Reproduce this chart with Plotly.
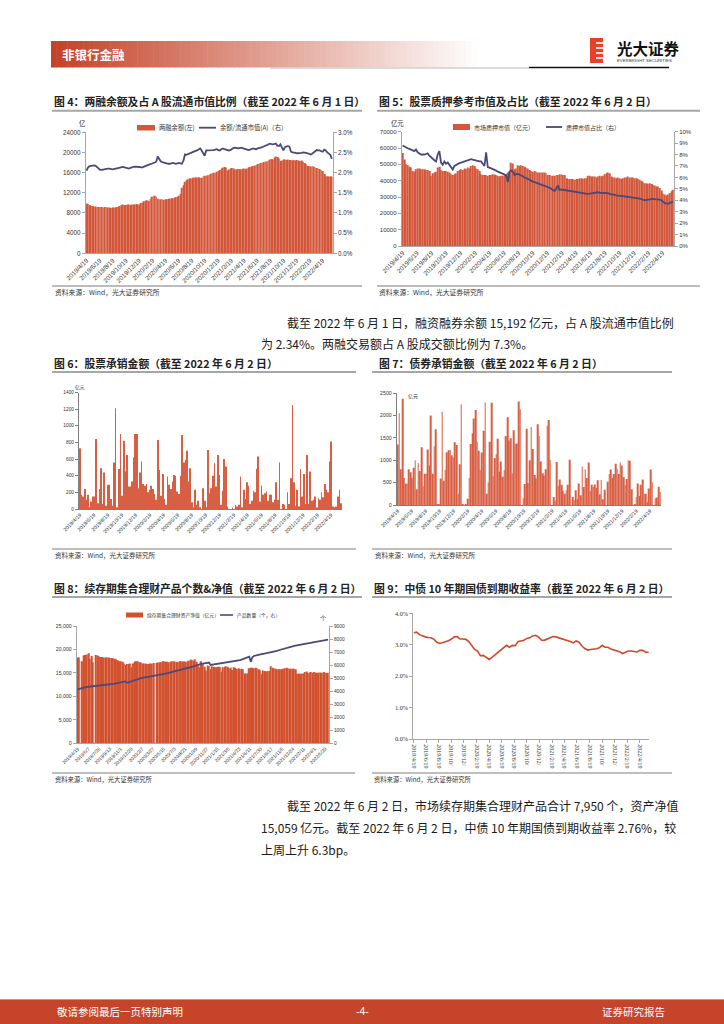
import pandas as pd
import plotly.graph_objects as go

W, H = 724, 1024
CJK = "Noto Sans CJK SC"
SANS = "Liberation Sans, Noto Sans CJK SC"
SERIF = "Liberation Serif"
BAR = "#D3573B"
BAR2 = "#D85F43"
LINE = "#4A4979"
AXC = "#A6A6A6"

# ---------------- data ----------------
tick_labels = ["2019/4/19", "2019/6/19", "2019/8/19", "2019/10/19", "2019/12/19", "2020/2/19",
               "2020/4/19", "2020/6/19", "2020/8/19", "2020/10/19", "2020/12/19", "2021/2/19",
               "2021/4/19", "2021/6/19", "2021/8/19", "2021/10/19", "2021/12/19", "2022/2/19",
               "2022/4/19"]
tick9_text = ["2019/4/19", "2019/6/19", "2019/8/19", "2019/10/", "2019/12/", "2020/2/19",
              "2020/4/19", "2020/6/19", "2020/8/19", "2020/10/", "2020/12/", "2021/2/19",
              "2021/4/19", "2021/6/19", "2021/8/19", "2021/10/", "2021/12/", "2022/2/19",
              "2022/4/19"]
tick8_labels = ["2019/4/19", "2019/6/7", "2019/7/26", "2019/9/13", "2019/11/1", "2019/12/20",
                "2020/2/7", "2020/3/27", "2020/5/15", "2020/7/3", "2020/8/21", "2020/10/9",
                "2020/11/27", "2021/1/15", "2021/3/5", "2021/4/23", "2021/6/11", "2021/7/30",
                "2021/9/17", "2021/11/5", "2021/12/24", "2022/2/11", "2022/4/1", "2022/5/20"]

# Fig 4: margin balance (亿元) and ratio to A-share float cap (%)
margin_bal = [9900, 9800, 9600,
              9400, 9400, 9300, 9300, 9200, 9200, 9200, 9200, 9100, 9200, 9200,
              9100, 9100, 9000, 9100, 9100, 9100, 9200, 9300, 9400,
              9600, 9700, 9600, 9600,
              9700, 9700, 9600, 9700, 9700, 9700, 9800, 9700, 9700,
              10000, 10100, 10300, 10400, 10500,
              10400, 10800, 11200, 11300,
              11400, 11200,
              10800, 10700, 10700, 10700, 10600, 10700, 10700, 10800, 10800, 10900, 10900,
              11000, 11100, 11200, 11400,
              11800, 13000, 13500,
              14200, 14500,
              14700, 14900, 14800, 15000, 15000,
              15100, 15000, 15100, 15000, 15000,
              15300, 15400, 15400, 15500, 15600, 15800, 15900,
              16000, 16000, 16200, 16300, 16500, 16800,
              17000, 17100, 17000,
              16400, 16600,
              16800, 16900, 16800, 16600,
              16600, 16700, 16700, 16600, 16700, 16800, 16700, 16800, 17000,
              17100, 17200, 17300, 17400,
              17500, 17700, 17800, 17900, 18000,
              18100, 18200, 18200, 18400,
              18600, 18700, 18600,
              19000, 19200, 19100, 18800,
              18300, 18400,
              18600, 18600, 18500, 18600, 18500, 18500, 18400, 18500, 18400, 18500, 18400, 18300, 18400, 18200,
              17900, 17700,
              17300, 17300, 17200, 17300, 17200, 17000,
              16900, 16800, 16700, 16500, 16300,
              15800, 15300,
              15300, 15200, 15300, 15200]
margin_ratio = [2.05, 2.13, 2.16, 2.17, 2.18, 2.18, 2.17, 2.13, 2.09, 2.07,
                2.07, 2.08, 2.09, 2.10, 2.10, 2.10, 2.09, 2.08, 2.09, 2.10,
                2.11, 2.12, 2.12, 2.13, 2.14, 2.13, 2.12, 2.11, 2.10, 2.12,
                2.14, 2.14, 2.15, 2.15, 2.14, 2.14, 2.13, 2.13, 2.15, 2.17,
                2.19, 2.20, 2.21, 2.22, 2.23, 2.25, 2.27, 2.40, 2.34, 2.28,
                2.26, 2.25, 2.23, 2.22, 2.22, 2.22, 2.23, 2.24, 2.23, 2.22,
                2.23, 2.24, 2.23, 2.22, 2.30, 2.45, 2.44, 2.46, 2.48, 2.50,
                2.52, 2.53, 2.54, 2.55, 2.58, 2.60, 2.55, 2.48, 2.42, 2.55,
                2.55, 2.55, 2.56, 2.55, 2.56, 2.57, 2.58, 2.56, 2.55, 2.58,
                2.60, 2.58, 2.57, 2.56, 2.55, 2.56, 2.59, 2.61, 2.62, 2.61,
                2.60, 2.61, 2.62, 2.61, 2.60, 2.58, 2.57, 2.56, 2.57, 2.59,
                2.60, 2.59, 2.58, 2.60, 2.62, 2.62, 2.63, 2.65, 2.67, 2.69,
                2.71, 2.72, 2.71, 2.70, 2.71, 2.72, 2.67, 2.66, 2.70, 2.62,
                2.55, 2.63, 2.65, 2.66, 2.64, 2.52, 2.50, 2.50, 2.49, 2.48,
                2.48, 2.48, 2.49, 2.50, 2.50, 2.49, 2.48, 2.47, 2.45, 2.47,
                2.50, 2.55, 2.56, 2.55, 2.55, 2.53, 2.52, 2.57, 2.55, 2.50,
                2.48, 2.44, 2.34]

# Fig 5: pledged market value (亿元) and share (%)
pledge_val = [57000, 53000, 50000, 49500, 48500, 48000, 46000, 45500, 47000, 47500,
              47500, 47000, 47000, 47000, 46500, 46500, 46000, 43000, 44500, 45000,
              45500, 48000, 48500, 46500, 46000, 46000, 46000, 45500, 45000, 44000,
              43500, 44000, 44500, 46000, 46500, 47000, 46500, 47500, 47000, 48000,
              47500, 49000, 49500, 49000, 47500, 47000, 46000, 44000, 43500, 43500,
              43500, 43000, 43500, 43500, 44000, 43800, 43500, 43000, 42500, 43000,
              43000, 44000, 44000, 45000, 46000, 51000, 50500, 47000, 47500, 49500,
              49000, 49500, 49000, 48500, 48000, 47500, 46500, 46000, 45500, 46000,
              45500, 45000, 45000, 45000, 45000, 45000, 44500, 43500, 43500, 43000,
              43000, 43000, 43500, 43500, 44000, 44000, 43500, 43500, 41500, 41000,
              41000, 41000, 41000, 40500, 41000, 41000, 41500, 41500, 41000, 41500,
              41500, 43000, 43000, 42500, 42500, 42500, 42000, 42500, 43000, 42500,
              43000, 44000, 44500, 45000, 44500, 42500, 42000, 42000, 41500, 42000,
              41500, 41000, 41500, 42000, 42000, 42500, 42000, 42000, 42000, 41500,
              41500, 41000, 40500, 40000, 39000, 38500, 38500, 38000, 38500, 38000,
              37500, 37000, 36500, 36500, 35500, 34000, 32000, 31500, 31000, 31500,
              32500, 33500, 34500]
pledge_ratio = [8.80, 8.70, 8.62, 8.55, 8.50, 8.45, 8.38, 8.30, 8.45, 8.20,
                8.10, 8.00, 8.02, 8.00, 8.05, 8.10, 7.90, 7.75, 7.60, 7.50,
                7.40, 8.00, 8.30, 7.30, 7.10, 7.40, 7.20, 7.30, 7.10, 6.90,
                6.70, 7.00, 7.10, 7.20, 7.25, 7.30, 7.35, 7.40, 7.45, 7.50,
                7.55, 7.60, 7.55, 7.50, 7.45, 7.40, 7.40, 7.40, 7.20, 7.00,
                8.20, 6.90, 6.85, 6.80, 6.75, 6.70, 6.60, 6.50, 6.45, 6.40,
                6.35, 6.30, 6.20, 5.60, 6.50, 6.60, 6.50, 6.20, 6.30, 6.30,
                6.25, 6.20, 6.10, 6.00, 5.95, 5.90, 5.80, 5.70, 5.65, 5.60,
                5.55, 5.50, 5.45, 5.40, 5.35, 5.30, 5.25, 5.20, 5.10, 5.00,
                4.90, 4.80, 5.00, 5.30, 4.90, 4.95, 4.92, 4.90, 4.88, 4.85,
                4.82, 4.80, 4.78, 4.75, 4.75, 4.74, 4.72, 4.68, 4.62, 4.60,
                4.56, 4.55, 4.58, 4.60, 4.63, 4.66, 4.70, 4.70, 4.66, 4.65,
                4.62, 4.60, 4.65, 4.62, 4.55, 4.50, 4.46, 4.44, 4.42, 4.40,
                4.37, 4.35, 4.35, 4.34, 4.32, 4.30, 4.30, 4.28, 4.26, 4.25,
                4.22, 4.20, 4.15, 4.10, 4.02, 4.00, 4.03, 4.06, 4.12, 4.15,
                4.12, 4.10, 4.10, 4.08, 4.06, 4.00, 3.85, 3.75, 3.72, 3.70,
                3.78, 3.80, 3.85]

# Fig 6: equity underwriting (亿元), weekly
equity_uw = [730, 170, 150, 240, 110, 170, 20, 90, 150, 150,
             840, 70, 240, 490, 60, 440, 40, 290, 290, 120,
             40, 560, 1210, 20, 480, 900, 160, 820, 450, 650,
             270, 270, 330, 620, 900, 900, 250, 440, 570, 300,
             280, 300, 200, 230, 280, 240, 180, 110, 830, 470,
             160, 420, 120, 50, 390, 290, 240, 330, 410, 400,
             210, 180, 400, 890, 560, 590, 700, 330, 490, 80,
             20, 230, 50, 100, 20, 0, 250, 100, 20, 710,
             190, 250, 400, 550, 270, 650, 410, 50, 220, 600,
             510, 30, 0, 0, 10, 0, 50, 30, 50, 390,
             20, 230, 120, 320, 280, 60, 100, 220, 200, 480,
             630, 90, 280, 170, 190, 210, 100, 170, 170, 80,
             110, 320, 110, 560, 0, 60, 50, 0, 200, 60,
             370, 1250, 320, 40, 230, 30, 480, 150, 420, 60,
             650, 60, 450, 100, 110, 150, 10, 130, 110, 200,
             140, 300, 230, 200, 570, 810, 30, 20, 30, 150,
             230, 70]

# Fig 7: bond underwriting (亿元), weekly
bond_uw = [1350, 2050, 800, 2370, 600, 480, 480, 800, 730, 600,
           830, 1000, 350, 940, 760, 1290, 420, 700, 700, 1240,
           880, 2000, 700, 1310, 1690, 10, 20, 590, 2080, 540,
           780, 1180, 1220, 1230, 1110, 1060, 1400, 1340, 250, 910,
           2250, 10, 0, 10, 140, 600, 1360, 1600, 1930, 2120,
           1410, 1210, 780, 1170, 1660, 2290, 250, 500, 1410, 2280,
           640, 1050, 1140, 1480, 750, 970, 630, 780, 1540, 1960,
           1440, 1490, 710, 1670, 1360, 1370, 2310, 2140, 0, 150,
           470, 1700, 490, 1000, 1740, 1250, 670, 590, 1800, 1540,
           970, 710, 660, 800, 1770, 1900, 1010, 0, 180, 100,
           960, 430, 570, 450, 320, 250, 330, 450, 1010, 0,
           180, 110, 330, 130, 480, 220, 860, 400, 800, 600,
           950, 310, 450, 400, 460, 380, 550, 240, 560, 130,
           340, 0, 520, 690, 790, 600, 690, 920, 810, 690,
           950, 880, 620, 440, 580, 1000, 990, 350, 0, 10,
           180, 480, 200, 450, 570, 250, 250, 60, 370, 790,
           510, 0, 150, 170, 410, 290]

# Fig 8: collective wealth-management products: net assets (亿元) and count (个)
cap_nav = [18300, 18300, None, 17500, 18700, 18800, 18900, 19200, 18000, 18600,
           17300, None, 18800, 18700, 18500, 18400, 18400, 18300, 18300, 18300,
           18300, 18200, 18200, 18100, 18000, 17900, 17700, 17500, 17500, 17400,
           17000, 16700, 16900, 16900, 17000, 16200, 17000, 17400, 17500, 17500,
           17300, 17200, 17000, 17000, 17000, 16900, 16900, 17000, 17000, 17100,
           None, 17100, 17200, 17300, 17300, 17500, 17500, 17400, 17400, 17300,
           17400, 17500, 17500, 17400, 17400, 17300, 17500, 17500, 17400, 17500,
           17400, 17500, 17600, 17800, 17800, 17600, 17900, 17400, 16800, 16200,
           17500, 17000, 16300, 15500, 16600, 16500, 15800, 16400, 16300, 16200,
           16200, 16300, 16300, 15300, 16200, 16300, 16400, 16300, 16000, 16100,
           15600, 16200, 16100, 15900, 16000, 15800, 15900, 15800, 14900, 14900,
           14900, 16000, 16100, 16100, 16000, 16100, 16000, 15800, 15600, 14700,
           15500, 15400, 15300, 15400, 15400, 16400, 16100, 16000, 15900, 15800,
           15800, 15800, 15800, 15900, 16000, 16100, 16000, 15900, 15900, 15900,
           15900, 15800, 14900, 14800, 14800, 14900, 14900, 15200, 15300, 15000,
           15100, 15200, 15000, 15200, 15100, 15000, 15100, 15100, 15000, 15200,
           15100, 15000, 15059]
cap_count = [4140, 4180, 4220, 4260, 4300, 4320, 4330, 4340, 4350,
             4360, 4370, 4380, 4390, 4400, 4410, 4420, 4440, 4450, 4460, 4480,
             4500, 4520, 4540, 4560, 4580, 4600, 4620, 4640, 4660, 4690, 4710,
             4750, 4640, 4700,
             4740, 4760, 4800, 4850, 4900, 4950, 4990,
             5000, 5020, 5040, 5060, 5080, 5100, 5120, 5140, 5150, 5160, 5170,
             5200, 5230, 5260, 5290, 5320, 5350, 5380, 5410, 5440, 5470, 5500,
             5530, 5560, 5590, 5620, 5650, 5680, 5710, 5740, 5770, 5790, 5800,
             5850, 5900, 5950, 6000, 6030, 6060,
             6090, 6120, 6140, 6160, 6180, 6200,
             6010, 6030, 6050,
             6060, 6080, 6090, 6100, 6110, 6120, 6140,
             6170, 6200, 6230, 6250, 6280, 6300, 6320, 6340, 6360, 6390,
             6420, 6460, 6500, 6550, 6600, 6650,
             6250,
             6600, 6700, 6740, 6780,
             6800, 6830, 6850, 6870, 6890, 6910, 6930, 6950, 6970, 7000, 7030,
             7060, 7100, 7140, 7180, 7220, 7260, 7300, 7340, 7370, 7400, 7420,
             7440, 7470, 7490, 7510, 7540, 7560, 7580, 7600, 7620, 7650, 7670,
             7690, 7710, 7730, 7750, 7760, 7780, 7800, 7820, 7850, 7880, 7910, 7930, 7950]

# Fig 9: 10y CGB yield (%), biweekly
cgb10y = [3.38, 3.40, 3.32, 3.28, 3.25, 3.23, 3.22, 3.17, 3.08, 3.04,
          3.07, 3.08, 3.13, 3.18, 3.25, 3.26, 3.18, 3.18, 3.17, 3.10,
          2.98, 2.85, 2.80, 2.65, 2.66, 2.58, 2.53, 2.60, 2.68, 2.74,
          2.85, 2.90, 2.98, 2.92, 2.98, 2.97, 3.10, 3.12, 3.14, 3.20,
          3.22, 3.28, 3.30, 3.25, 3.15, 3.14, 3.18, 3.22, 3.26, 3.25,
          3.22, 3.20, 3.17, 3.15, 3.10, 3.06, 3.12, 3.08, 2.96, 2.88,
          2.83, 2.85, 2.85, 2.87, 2.90, 2.98, 2.92, 2.92, 2.86, 2.84,
          2.82, 2.78, 2.72, 2.76, 2.80, 2.80, 2.79, 2.77, 2.82, 2.82,
          2.76, 2.76]

# ---------------- helpers ----------------
def X(p):
    return p / W


def Y(p):
    return 1 - p / H


def dates(n, end):
    return pd.date_range("2019-04-19", end, periods=n)


def rng(d, pad=4):
    return [str(d[0] - pd.Timedelta(days=pad)), str(d[-1] + pd.Timedelta(days=pad))]


tv = pd.to_datetime(tick_labels, format="%Y/%m/%d")
tv8 = pd.to_datetime(tick8_labels, format="%Y/%m/%d")

d4 = dates(len(margin_bal), "2022-06-01")
d5 = dates(len(pledge_val), "2022-06-02")
d6 = dates(len(equity_uw), "2022-06-02")
d7 = dates(len(bond_uw), "2022-06-02")
d8 = dates(len(cap_nav), "2022-06-02")
d9 = dates(len(cgb10y), "2022-06-02")
WEEK = 7 * 86400000


def xax(x0, x1, anchor, r, tvals, ttext, size, angle=-45, family=SANS, ticks="", lc=AXC):
    return dict(domain=[X(x0), X(x1)], anchor=anchor, type="date", range=r,
                tickmode="array", tickvals=tvals, ticktext=ttext, tickangle=angle,
                tickfont=dict(size=size, family=family, color="#333"),
                showline=True, linecolor=lc, linewidth=1, ticks=ticks, ticklen=3,
                tickcolor=lc, showgrid=False, zeroline=False, fixedrange=True)


def yax(top, bottom, anchor, r, dtick, fmt, size, side="left", overlay=None,
        suffix="", family=SANS, lc=AXC):
    d = dict(anchor=anchor, range=r, dtick=dtick, tick0=0, tickformat=fmt,
             ticksuffix=suffix, side=side, tickmode="linear",
             tickfont=dict(size=size, family=family, color="#333"),
             showline=True, linecolor=lc, linewidth=1, ticks="outside", ticklen=3,
             tickcolor=lc, showgrid=False, zeroline=False, fixedrange=True)
    if overlay:
        d["overlaying"] = overlay
    else:
        d["domain"] = [Y(bottom), Y(top)]
    return d


fig = go.Figure()

# Fig 4
fig.add_trace(go.Bar(x=d4, y=margin_bal, marker=dict(color=BAR, line=dict(width=0)),
                     width=WEEK * 0.58, xaxis="x", yaxis="y", name="两融余额(左)"))
fig.add_trace(go.Scatter(x=d4, y=margin_ratio, mode="lines", line=dict(color=LINE, width=1.8),
                         xaxis="x", yaxis="y2", name="余额/流通市值(A)（右）"))
# Fig 5
fig.add_trace(go.Bar(x=d5, y=pledge_val, marker=dict(color=BAR, line=dict(width=0)),
                     width=WEEK * 0.58, xaxis="x2", yaxis="y3", name="市场质押市值（亿元）"))
fig.add_trace(go.Scatter(x=d5, y=pledge_ratio, mode="lines", line=dict(color=LINE, width=1.8),
                         xaxis="x2", yaxis="y4", name="质押市值占比（右）"))
# Fig 6
fig.add_trace(go.Bar(x=d6, y=equity_uw, marker=dict(color=BAR2, line=dict(width=0)),
                     width=WEEK * 0.45, xaxis="x3", yaxis="y5", name="股票承销金额"))
# Fig 7
fig.add_trace(go.Bar(x=d7, y=bond_uw, marker=dict(color=BAR2, line=dict(width=0)),
                     width=WEEK * 0.45, xaxis="x4", yaxis="y6", name="债券承销金额"))
# Fig 8
fig.add_trace(go.Bar(x=d8, y=cap_nav, marker=dict(color="#D2512E", line=dict(width=0)),
                     width=WEEK * 0.85, xaxis="x5", yaxis="y7", name="续存期集合理财资产净值（亿元）"))
fig.add_trace(go.Scatter(x=d8, y=cap_count, mode="lines", line=dict(color=LINE, width=1.8),
                         xaxis="x5", yaxis="y8", name="产品数量（个，右）"))
# Fig 9
fig.add_trace(go.Scatter(x=d9, y=cgb10y, mode="lines", line=dict(color="#D0472A", width=1.6),
                         xaxis="x6", yaxis="y9", name="中债10年期国债到期收益率"))

layout = dict(
    width=W, height=H, margin=dict(l=0, r=0, t=0, b=0), template="none",
    paper_bgcolor="white", plot_bgcolor="rgba(0,0,0,0)", showlegend=False,
    font=dict(family=CJK, color="#333"),
    xaxis=xax(85.7, 332.7, "y", rng(d4), tv, tick_labels, 6.3),
    yaxis=yax(132.3, 253.3, "x", [0, 24000], 4000, "d", 6.3),
    yaxis2=yax(0, 0, "x", [0, 3], 0.5, ".1f", 6.3, side="right", overlay="y", suffix="%"),
    xaxis2=xax(401.7, 674, "y3", rng(d5), tv, tick_labels, 6.3),
    yaxis3=yax(131.7, 246, "x2", [0, 70000], 10000, "d", 6.0),
    yaxis4=yax(0, 0, "x2", [0, 10], 1, "d", 6.0, side="right", overlay="y3", suffix="%"),
    xaxis3=xax(79, 342, "y5", rng(d6), tv, tick_labels, 5.2, lc="#7F7F7F"),
    yaxis5=yax(392.5, 509, "x3", [0, 1400], 200, "d", 4.8, lc="#7F7F7F"),
    xaxis4=xax(396.7, 661, "y6", rng(d7), tv, tick_labels, 5.2, lc="#7F7F7F"),
    yaxis6=yax(393, 505, "x4", [0, 2500], 500, "d", 5.2, lc="#7F7F7F"),
    xaxis5=xax(76.7, 329, "y7", rng(d8), tv8, tick8_labels, 4.8),
    yaxis7=yax(626, 743.3, "x5", [0, 25000], 5000, ",d", 5.2),
    yaxis8=yax(0, 0, "x5", [0, 9000], 1000, "d", 4.8, side="right", overlay="y7"),
    xaxis6=xax(413.3, 649, "y9", [str(d9[0] - pd.Timedelta(days=2)), str(d9[-1] + pd.Timedelta(days=2))],
               tv, tick9_text, 6.0, angle=90, family=SERIF, ticks="outside"),
    yaxis9=yax(613.3, 739, "x6", [0, 4], 1, ".1f", 6.3, suffix="%", family=SERIF),
)
fig.update_layout(**layout)

shapes = []
annots = []


def text(x, y, s, size, color="#333", bold=False, anchor="left", family=CJK):
    annots.append(dict(x=X(x), y=Y(y), xref="paper", yref="paper", text=("<b>%s</b>" % s) if bold else s,
                       showarrow=False, xanchor=anchor, yanchor="middle",
                       font=dict(size=size, color=color, family=family)))


def hline(x0, x1, y, color, width):
    shapes.append(dict(type="line", xref="paper", yref="paper", x0=X(x0), x1=X(x1), y0=Y(y), y1=Y(y),
                       line=dict(color=color, width=width)))


def rect(x0, y0, x1, y1, color):
    shapes.append(dict(type="rect", xref="paper", yref="paper", x0=X(x0), x1=X(x1), y0=Y(y1), y1=Y(y0),
                       fillcolor=color, line=dict(width=0), layer="below"))


# header gradient band
n = 80
bx0, bx1 = 51, 482
for i in range(n):
    t = i / (n - 1)
    r = int(197 + (255 - 197) * t)
    g = int(66 + (255 - 66) * t)
    b = int(40 + (255 - 40) * t)
    rect(bx0 + (bx1 - bx0) * i / n, 41, bx0 + (bx1 - bx0) * (i + 1) / n + 0.5, 67.5, "rgb(%d,%d,%d)" % (r, g, b))
text(60, 54, "非银行金融", 12.5, "white", bold=True)
hline(270, 529, 68, "#CFCFCF", 1.5)
hline(529, 669, 67.5, "#111111", 1.5)
# logo
rect(590, 38, 603, 63, "#E5412B")
for yy in (43, 48, 53, 58):
    shapes.append(dict(type="line", xref="paper", yref="paper", x0=X(596), x1=X(603.5), y0=Y(yy), y1=Y(yy),
                       line=dict(color="white", width=1.6)))
text(615, 48, "光大证券", 15.5, "#111", bold=True)
text(615, 60, "EVERBRIGHT SECURITIES", 4.3, "#333", family="Liberation Sans")

# titles, underlines, sources
src = "资料来源：Wind，光大证券研究所"
text(52, 101, "图 4：两融余额及占 A 股流通市值比例（截至 2022 年 6 月 1 日）", 10.8, "#222", bold=True)
hline(52, 362, 110.7, AXC, 2)
text(377, 101, "图 5：股票质押参考市值及占比（截至 2022 年 6 月 2 日）", 10.8, "#222", bold=True)
hline(377, 700, 110.7, AXC, 2)
hline(52, 362, 286, AXC, 1.5)
hline(377, 700, 286, AXC, 1.5)
text(53, 291.5, src, 6.8)
text(377, 291.5, src, 6.8)

text(52, 363, "图 6：股票承销金额（截至 2022 年 6 月 2 日）", 10.8, "#222", bold=True)
hline(52, 356, 372, AXC, 2)
text(377, 363, "图 7：债券承销金额（截至 2022 年 6 月 2 日）", 10.8, "#222", bold=True)
hline(372, 672, 372, AXC, 2)
hline(52, 356, 549, "#7F7F7F", 1.2)
hline(372, 672, 549, "#7F7F7F", 1.2)
text(53, 555, src, 6.5)
text(373, 555, src, 6.5)

text(52, 588, "图 8：续存期集合理财产品个数&amp;净值（截至 2022 年 6 月 2 日）", 10.8, "#222", bold=True)
hline(52, 362, 597, AXC, 2)
text(372, 588, "图 9：中债 10 年期国债到期收益率（截至 2022 年 6 月 2 日）", 10.8, "#222", bold=True)
hline(372, 672, 597, AXC, 2)
hline(52, 355, 773, "#7F7F7F", 1.2)
hline(372, 672, 773, "#7F7F7F", 1.2)
text(53, 779, src, 6.3)
text(372, 779, src, 6.3)

# units
text(82, 123, "亿", 6.5, anchor="center")
text(397, 123, "亿元", 6.3, anchor="center")
text(80, 387, "亿元", 4.8, anchor="center")
text(406, 396, "亿元", 5.0)
text(323, 618, "个", 6.3, anchor="center")

# legends
rect(137, 125, 155, 130.5, BAR)
text(157, 127.7, "两融余额(左)", 6.3)
hline(199, 216, 127.7, LINE, 1.8)
text(218, 127.7, "余额/流通市值(A)（右）", 6.3)

rect(453, 124, 470, 130, BAR)
text(472, 127, "市场质押市值（亿元）", 6.0)
hline(546, 562, 127, LINE, 1.8)
text(564, 127, "质押市值占比（右）", 6.0)

rect(126, 612.5, 143, 617.5, "#D2512E")
text(145, 615, "续存期集合理财资产净值（亿元）", 4.8)
hline(220, 233, 615, LINE, 1.6)
text(235, 615, "产品数量（个，右）", 4.8)

# paragraphs
PC = "#1A1A1A"
text(285, 322, "截至 2022 年 6 月 1 日，融资融券余额 15,192 亿元，占 A 股流通市值比例", 12, PC)
text(259, 343, "为 2.34%。两融交易额占 A 股成交额比例为 7.3%。", 12, PC)
text(285, 805, "截至 2022 年 6 月 2 日，市场续存期集合理财产品合计 7,950 个，资产净值", 12, PC)
text(259, 827, "15,059 亿元。截至 2022 年 6 月 2 日，中债 10 年期国债到期收益率 2.76%，较", 12, PC)
text(259, 849, "上周上升 6.3bp。", 12, PC)

# footer
rect(0, 999, 724, 1024, "#C5442A")
hline(0, 724, 999.5, "#E08A78", 1)
text(55, 1011, "敬请参阅最后一页特别声明", 10.5, "white")
text(362, 1011, "-4-", 10.5, "white", anchor="center", family="Liberation Sans")
text(667, 1011, "证券研究报告", 10.5, "white", anchor="right")

fig.update_layout(shapes=shapes, annotations=annots)
fig.write_html("out.html", config={"displayModeBar": False},
               post_script="document.body.style.margin='0';")
